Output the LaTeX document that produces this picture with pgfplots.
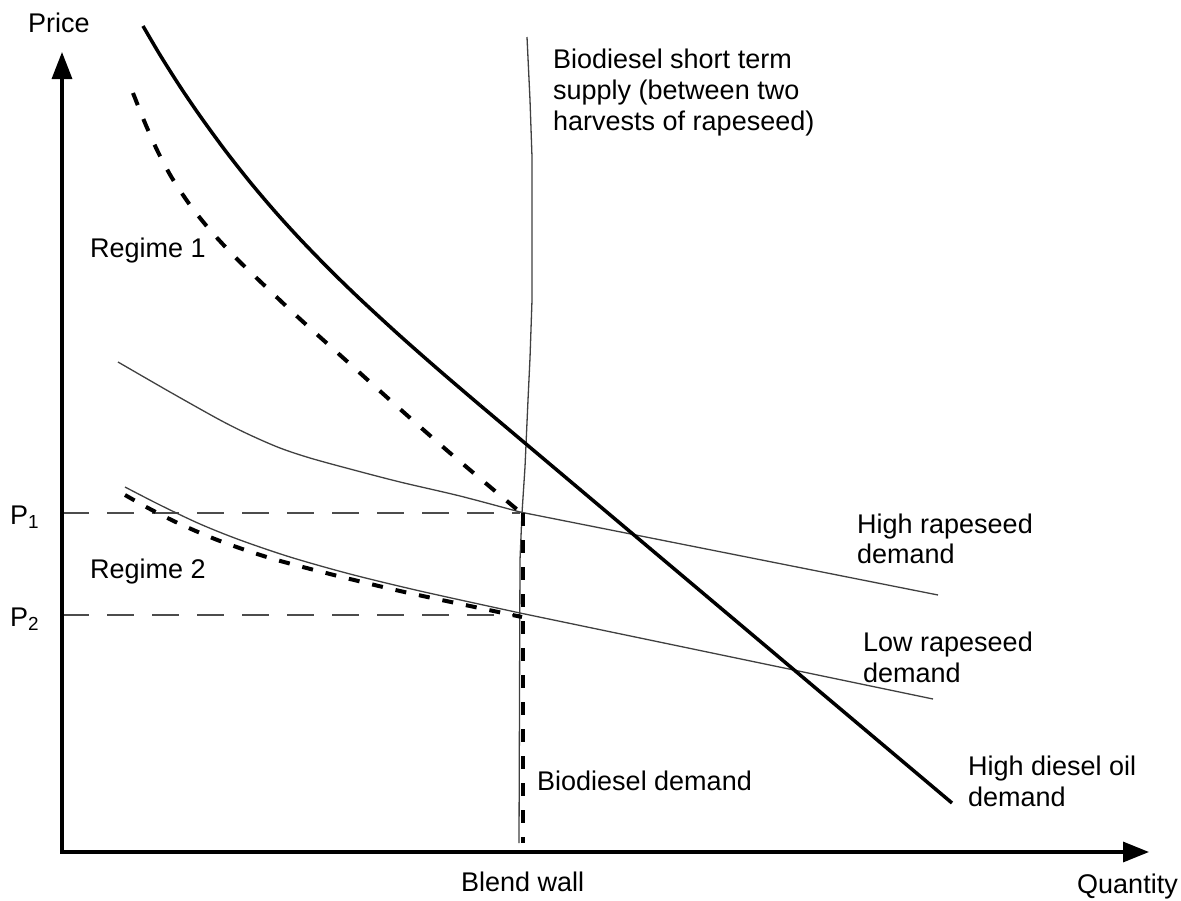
\documentclass[border=0pt]{standalone}
\usepackage{fontspec}
\setmainfont{Liberation Sans}
\usepackage{pgfplots}
\pgfplotsset{compat=1.18}
\usetikzlibrary{arrows.meta}
\tikzset{lbl/.style={anchor=base west, inner sep=0pt, font=\fontsize{27pt}{31pt}\selectfont, text=black}}

\begin{document}
\begin{tikzpicture}
\begin{axis}[
  width=1181pt, height=900pt, scale only axis,
  xmin=0, xmax=1181, ymin=0, ymax=900, y dir=reverse,
  axis lines=none, clip=false, xtick=\empty, ytick=\empty,
]
\path (rel axis cs:0,0) rectangle (rel axis cs:1,1);

% dashed price levels
\addplot[black!70, line width=1.5pt, dash pattern=on 27pt off 18pt] coordinates {(62,513) (520,513)};
\addplot[black!70, line width=1.5pt, dash pattern=on 27pt off 18pt] coordinates {(62,615) (520,615)};

% High rapeseed demand (thin)
\addplot[black!75, line width=1.3pt, smooth] coordinates {
 (118,362) (170,392) (220,420) (250,435) (280,448) (310,458) (350,469) (400,482) (460,496) (520,512)};
\addplot[black!75, line width=1.3pt] coordinates {(520,512) (938,595)};
% Low rapeseed demand (thin)
\addplot[black!75, line width=1.3pt, smooth] coordinates {
 (125,487) (160,505) (200,524) (240,540) (290,557) (350,574) (420,591) (520,613)};
\addplot[black!75, line width=1.3pt] coordinates {(520,613) (933,699)};

% Biodiesel short-term supply (thin)
\addplot[black!75, line width=1.3pt] coordinates {
 (527,37) (530,100) (532,157) (532,300) (530,358) (528,400) (525,467) (522,513) (520,560) (519,843)};

% Regime 1 dashed
\addplot[black, line width=4pt, smooth, dash pattern=on 13pt off 15pt] coordinates {
 (133,93) (145,123) (158,152) (172,178) (190,205) (210,230) (235,257) (265,286) (300,319) (350,364) (400,409) (450,453) (520,512)};
% Regime 2 dashed
\addplot[black, line width=4pt, smooth, dash pattern=on 11pt off 13pt] coordinates {
 (125,495) (150,509) (180,524) (220,541) (270,558) (330,574) (400,591) (470,606) (522,617)};
% Biodiesel demand (vertical dashed)
\addplot[black, line width=4pt, dash pattern=on 13pt off 14pt] coordinates {(523,513) (523,843)};

% High diesel oil demand (thick)
\addplot[black, line width=3.5pt, smooth] coordinates {
 (143,26) (160,54.9) (180,86.5) (200,115.9) (225,150.2) (250,182) (275,211.5) (300,239) (330,269.9) (360,299) (400,335.8) (440,371) (480,405.2)};
\addplot[black, line width=3.5pt] coordinates {(480,405.2) (952,803)};

% axes
\addplot[black, line width=3.3pt, line join=miter,
  {Triangle[length=27pt,width=20pt]}-{Triangle[length=26pt,width=20pt]}]
  coordinates {(62,52) (62,852) (1149,852)};

% labels
\node[lbl] at (axis cs:28,32) {Price};
\node[lbl] at (axis cs:1077,893) {Quantity};
\node[lbl] at (axis cs:461,891) {Blend wall};
\node[lbl] at (axis cs:553,68) {Biodiesel short term};
\node[lbl] at (axis cs:553,99) {supply (between two};
\node[lbl] at (axis cs:553,130) {harvests of rapeseed)};
\node[lbl] at (axis cs:90,257) {Regime 1};
\node[lbl] at (axis cs:90,578) {Regime 2};
\node[lbl] at (axis cs:10,524) {P\textsubscript{1}};
\node[lbl] at (axis cs:10,626) {P\textsubscript{2}};
\node[lbl] at (axis cs:857,533) {High rapeseed};
\node[lbl] at (axis cs:857,563) {demand};
\node[lbl] at (axis cs:863,651) {Low rapeseed};
\node[lbl] at (axis cs:863,682) {demand};
\node[lbl] at (axis cs:968,775) {High diesel oil};
\node[lbl] at (axis cs:968,806) {demand};
\node[lbl] at (axis cs:537,790) {Biodiesel demand};
\end{axis}
\end{tikzpicture}
\end{document}
